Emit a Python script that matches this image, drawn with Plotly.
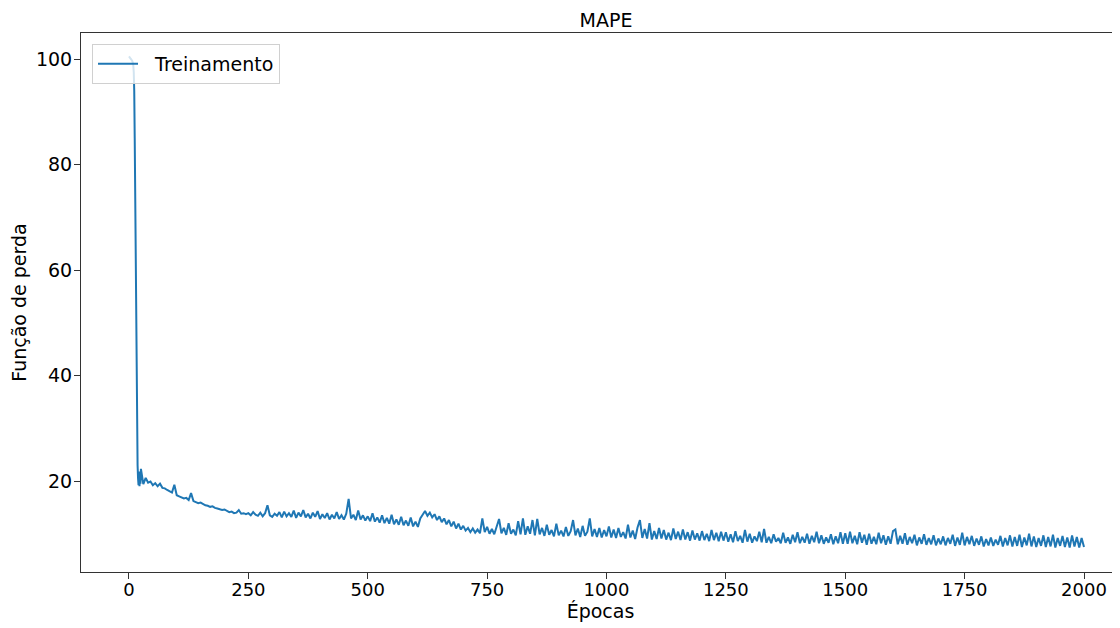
import plotly.graph_objects as go

# ---- data ----
# first epochs, one value per epoch (0..24)
early_epochs = list(range(0, 25))
early_loss = [100.5, 100.3, 100.2, 100.1, 100.0, 99.9, 99.8, 99.6, 99.3, 98.8,
              97.5, 94.0, 85.0, 72.0, 58.0, 45.0, 34.0, 27.0, 23.0, 20.5,
              19.2, 21.8, 19.0, 20.6, 19.5]

# afterwards, one value every 5 epochs
epochs_a = list(range(25, 250, 5))
loss_a = [22.3, 19.4, 20.6, 19.7, 19.9, 19.2, 19.6, 19.0, 19.5, 18.7,
          18.6, 18.3, 18.0, 17.8, 19.3, 17.3, 17.1, 16.9, 16.7, 16.8,
          16.4, 17.7, 16.2, 16.0, 15.8, 15.9, 15.6, 15.4, 15.3, 15.1,
          15.2, 14.9, 14.8, 14.7, 14.5, 14.6, 14.3, 14.1, 14.2, 13.9,
          14.0, 14.5, 13.8, 13.9, 13.7]

epochs_b = list(range(250, 500, 5))
loss_b = [13.9, 13.5, 14.1, 13.6, 13.4, 14.0, 13.3, 13.9, 15.4, 13.5,
          13.2, 13.8, 13.4, 14.1, 13.1, 14.2, 13.3, 13.9, 13.2, 14.4,
          13.0, 14.0, 13.3, 14.5, 13.1, 13.8, 12.9, 14.0, 13.2, 14.3,
          12.8, 13.7, 13.0, 13.9, 12.7, 13.6, 12.9, 14.1, 12.8, 13.5,
          12.7, 13.8, 16.6, 12.9, 13.6, 12.6, 14.4, 12.7, 13.5, 12.5]

epochs_c = list(range(500, 750, 5))
loss_c = [13.3, 12.4, 13.9, 12.3, 13.1, 12.1, 13.5, 12.0, 13.0, 11.9,
          13.6, 11.8, 12.7, 11.7, 13.2, 11.6, 12.5, 11.5, 13.1, 11.4,
          12.3, 11.3, 12.9, 13.6, 14.3, 13.4, 14.0, 13.1, 13.7, 12.6,
          13.3, 12.2, 12.9, 11.8, 12.6, 11.4, 12.3, 11.0, 11.9, 10.8,
          11.5, 10.6, 11.1, 10.3, 11.0, 10.2, 10.8, 10.1, 12.9, 10.3]

epochs_d = list(range(750, 1000, 5))
loss_d = [11.3, 10.0, 10.9, 9.9, 11.6, 12.8, 10.1, 11.1, 9.8, 12.0,
          10.0, 10.8, 9.7, 12.4, 9.9, 12.9, 9.8, 11.4, 10.0, 12.6,
          9.7, 12.8, 9.9, 11.1, 9.6, 11.7, 9.8, 10.7, 9.5, 11.9,
          9.7, 10.6, 9.5, 11.3, 9.6, 10.5, 12.6, 9.7, 11.0, 9.4,
          11.5, 9.6, 10.4, 12.9, 9.5, 10.9, 9.4, 11.1, 9.3, 10.7]

epochs_e = list(range(1000, 1250, 5))
loss_e = [9.5, 11.4, 9.3, 10.8, 9.2, 11.1, 9.4, 10.3, 9.1, 11.7,
          9.3, 10.6, 9.0, 11.2, 12.6, 9.2, 10.9, 9.1, 12.0, 8.9,
          10.5, 9.0, 11.1, 9.1, 10.7, 8.9, 10.2, 8.8, 11.0, 9.0,
          10.4, 8.8, 10.8, 8.9, 10.3, 8.7, 10.6, 8.9, 10.1, 8.7,
          10.5, 8.8, 10.0, 8.6, 10.7, 8.8, 10.2, 8.6, 10.4, 8.7]

epochs_f = list(range(1250, 1500, 5))
loss_f = [10.3, 8.5, 9.9, 8.4, 10.5, 8.6, 9.6, 8.3, 10.7, 8.5,
          10.0, 8.3, 9.5, 8.6, 10.4, 8.4, 10.9, 8.3, 9.4, 8.2,
          9.9, 8.5, 9.2, 8.2, 10.2, 8.3, 9.3, 8.1, 9.8, 8.4,
          10.3, 8.2, 9.4, 8.3, 10.0, 8.1, 9.6, 8.4, 10.4, 8.2,
          9.7, 8.1, 9.3, 8.3, 9.9, 8.0, 9.5, 8.2, 10.3, 8.1]

epochs_g = list(range(1500, 1750, 5))
loss_g = [10.1, 8.1, 10.4, 8.2, 9.6, 8.0, 10.3, 8.3, 9.8, 7.9,
          10.0, 8.1, 9.4, 8.0, 10.2, 8.2, 9.7, 7.9, 9.5, 8.1,
          10.5, 10.8, 8.0, 9.6, 8.1, 10.1, 7.9, 9.4, 8.2, 9.8,
          7.8, 9.3, 8.1, 9.9, 7.9, 9.2, 8.0, 9.7, 7.8, 9.1,
          8.0, 9.5, 7.8, 9.2, 8.1, 9.8, 7.7, 9.3, 7.9, 10.2]

epochs_h = list(range(1750, 2001, 5))
loss_h = [7.8, 9.4, 8.0, 9.6, 7.7, 9.1, 7.9, 9.5, 7.6, 9.0,
          7.8, 9.3, 7.7, 8.9, 7.9, 9.6, 7.6, 9.2, 7.8, 9.7,
          7.6, 9.4, 7.7, 9.8, 7.5, 9.3, 7.8, 10.0, 7.6, 9.5,
          7.5, 9.2, 7.7, 9.7, 7.5, 9.4, 7.6, 9.8, 7.4, 9.2,
          7.7, 9.6, 7.5, 9.3, 7.4, 9.7, 7.6, 9.4, 7.4, 9.2,
          7.5]

x_ticks = [0, 250, 500, 750, 1000, 1250, 1500, 1750, 2000]
y_ticks = [20, 40, 60, 80, 100]

epochs = (early_epochs + epochs_a + epochs_b + epochs_c + epochs_d +
          epochs_e + epochs_f + epochs_g + epochs_h)
loss = (early_loss + loss_a + loss_b + loss_c + loss_d +
        loss_e + loss_f + loss_g + loss_h)

FONT = "DejaVu Sans"
FS = 19

fig = go.Figure()
fig.add_trace(go.Scatter(
    x=epochs, y=loss, mode="lines", name="\u00a0\u00a0Treinamento",
    line=dict(color="#1f77b4", width=2),
))

# page body adds an 8px offset; figure is sized to fill the rest of the window
W, H = 1112, 620
fig.update_layout(
    width=W, height=H,
    margin=dict(l=73, r=0, t=25, b=56),
    paper_bgcolor="white", plot_bgcolor="white",
    font=dict(family=FONT, size=FS, color="black"),
    title=dict(text="MAPE", x=598 / W, xanchor="center", xref="container",
               y=1 - 12 / H, yanchor="middle", yref="container",
               font=dict(family=FONT, size=FS, color="black")),
    showlegend=True,
    legend=dict(x=0.0106, y=0.9796, xanchor="left", yanchor="top",
                bgcolor="rgba(255,255,255,0.8)", bordercolor="#d0d0d0",
                borderwidth=1, font=dict(family=FONT, size=FS, color="black"),
                itemwidth=40, tracegroupgap=0),
)

fig.update_xaxes(
    range=[-100.5, 2075.4], tickvals=x_ticks,
    ticktext=[str(v) for v in x_ticks],
    showgrid=False, zeroline=False,
    showline=True, mirror=True, linecolor="#333333", linewidth=1,
    ticks="outside", ticklen=6, tickcolor="#333333",
    ticklabelstandoff=-5,
    tickfont=dict(family=FONT, size=18, color="black"),
    title=dict(text="Épocas", standoff=4,
               font=dict(family=FONT, size=FS, color="black")),
)
fig.update_yaxes(
    range=[2.75, 104.93], tickvals=y_ticks,
    ticktext=[str(v) for v in y_ticks],
    showgrid=False, zeroline=False,
    showline=True, mirror=False, linecolor="#333333", linewidth=1,
    ticks="outside", ticklen=6, tickcolor="#333333",
    ticklabelstandoff=-2,
    tickfont=dict(family=FONT, size=FS, color="black"),
    title=dict(text="Função de perda", standoff=7,
               font=dict(family=FONT, size=FS, color="black")),
)

fig.write_html("out.html")
